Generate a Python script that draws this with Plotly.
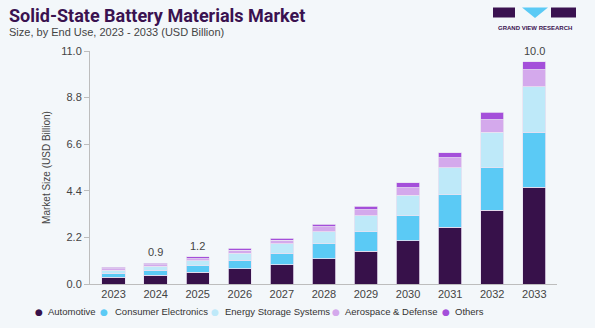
import plotly.graph_objects as go

years = ["2023", "2024", "2025", "2026", "2027", "2028", "2029", "2030", "2031", "2032", "2033"]
automotive = [0.31, 0.41, 0.55, 0.71, 0.92, 1.20, 1.55, 2.05, 2.67, 3.49, 4.57]
consumer_electronics = [0.19, 0.24, 0.31, 0.40, 0.54, 0.69, 0.91, 1.17, 1.55, 2.00, 2.59]
energy_storage = [0.15, 0.19, 0.24, 0.35, 0.43, 0.57, 0.76, 0.98, 1.27, 1.67, 2.15]
aerospace_defense = [0.08, 0.08, 0.10, 0.13, 0.17, 0.24, 0.28, 0.35, 0.46, 0.60, 0.81]
others = [0.05, 0.07, 0.09, 0.09, 0.11, 0.12, 0.17, 0.23, 0.25, 0.34, 0.37]
value_labels = {"2024": "0.9", "2025": "1.2", "2033": "10.0"}

series = [
    ("Automotive", automotive, "#37114A"),
    ("Consumer Electronics", consumer_electronics, "#5BCAF5"),
    ("Energy Storage Systems", energy_storage, "#BEE9F9"),
    ("Aerospace & Defense", aerospace_defense, "#D4A9EC"),
    ("Others", others, "#A44FDA"),
]

W, H = 595, 328
L, R, T, B = 90, 38, 51, 44
PW, PH = W - L - R, H - T - B


def px(x):
    return (x - L) / PW


def py(y):
    return (H - B - y) / PH


BG = "#F3F7FA"
FONT = "Liberation Sans, Arial, sans-serif"

fig = go.Figure()
for name, vals, color in series:
    fig.add_trace(go.Bar(
        x=years, y=vals, name=name, showlegend=False,
        marker=dict(color=color, line=dict(color="#E9E1F1", width=0.8)),
    ))

totals = [sum(v) for v in zip(*[s[1] for s in series])]
annotations = []
for i, (yr, tot) in enumerate(zip(years, totals)):
    if yr in value_labels:
        annotations.append(dict(xref="x", yref="y", x=i, y=tot, text=value_labels[yr], showarrow=False,
                                yanchor="bottom", yshift=3,
                                font=dict(size=11, color="#444", family=FONT)))

# Title / subtitle
annotations.append(dict(xref="paper", yref="paper", x=px(7), y=py(15), xanchor="left", yanchor="middle",
                        text="<b>Solid-State Battery Materials Market</b>", showarrow=False,
                        font=dict(size=18, color="#3A1250", family="Roboto, Arial Black, sans-serif")))
annotations.append(dict(xref="paper", yref="paper", x=px(7), y=py(32), xanchor="left", yanchor="middle",
                        text="Size, by End Use, 2023 - 2033 (USD Billion)", showarrow=False,
                        font=dict(size=11, color="#444", family=FONT)))
# Logo text
annotations.append(dict(xref="paper", yref="paper", x=px(535), y=py(28), xanchor="center", yanchor="middle",
                        text="<b>GRAND VIEW RESEARCH</b>", showarrow=False,
                        font=dict(size=6, color="#3A1250", family=FONT)))

# Legend (custom)
dot_x = [39, 104.3, 215, 335.7, 445.7]
text_x = [46, 112.5, 223, 343, 453]
for (name, vals, color), dx, tx in zip(series, dot_x, text_x):
    annotations.append(dict(xref="paper", yref="paper", x=px(dx), y=py(311.5), xanchor="center", yanchor="middle",
                            text="●", showarrow=False,
                            font=dict(size=9, color=color, family="DejaVu Sans, sans-serif")))
    annotations.append(dict(xref="paper", yref="paper", x=px(tx), y=py(311), xanchor="left", yanchor="middle",
                            text=name, showarrow=False,
                            font=dict(size=9.5, color="#333", family=FONT)))

shapes = [
    dict(type="rect", xref="paper", yref="paper", x0=px(493), x1=px(515), y0=py(17.5), y1=py(7.5),
         fillcolor="#3A1250", line=dict(width=0)),
    dict(type="path", xref="paper", yref="paper",
         path=f"M {px(522)} {py(7.5)} L {px(548)} {py(7.5)} L {px(535)} {py(18)} Z",
         fillcolor="#5BCAF5", line=dict(width=0)),
    dict(type="rect", xref="paper", yref="paper", x0=px(551), x1=px(576), y0=py(17.5), y1=py(7.5),
         fillcolor="#3A1250", line=dict(width=0)),
]

fig.update_layout(
    width=W, height=H,
    margin=dict(l=L, r=R, t=T, b=B),
    paper_bgcolor=BG, plot_bgcolor=BG,
    barmode="stack", bargap=0.445,
    showlegend=False,
    annotations=annotations,
    shapes=shapes,
    font=dict(family=FONT, color="#444"),
    xaxis=dict(type="category", range=[-0.56, 10.54], showline=True, linecolor="#BDBDBD",
               ticks="", showgrid=False, tickfont=dict(size=11, color="#444")),
    yaxis=dict(range=[0, 11], tickvals=[0, 2.2, 4.4, 6.6, 8.8, 11.0], tickformat=".1f",
               showline=True, linecolor="#BDBDBD", ticks="outside", ticklen=5, tickcolor="#BDBDBD",
               showgrid=False, zeroline=False, tickfont=dict(size=11, color="#444"),
               title=dict(text="Market Size (USD Billion)", font=dict(size=10, color="#444"), standoff=8)),
)

fig.write_html("out.html")
